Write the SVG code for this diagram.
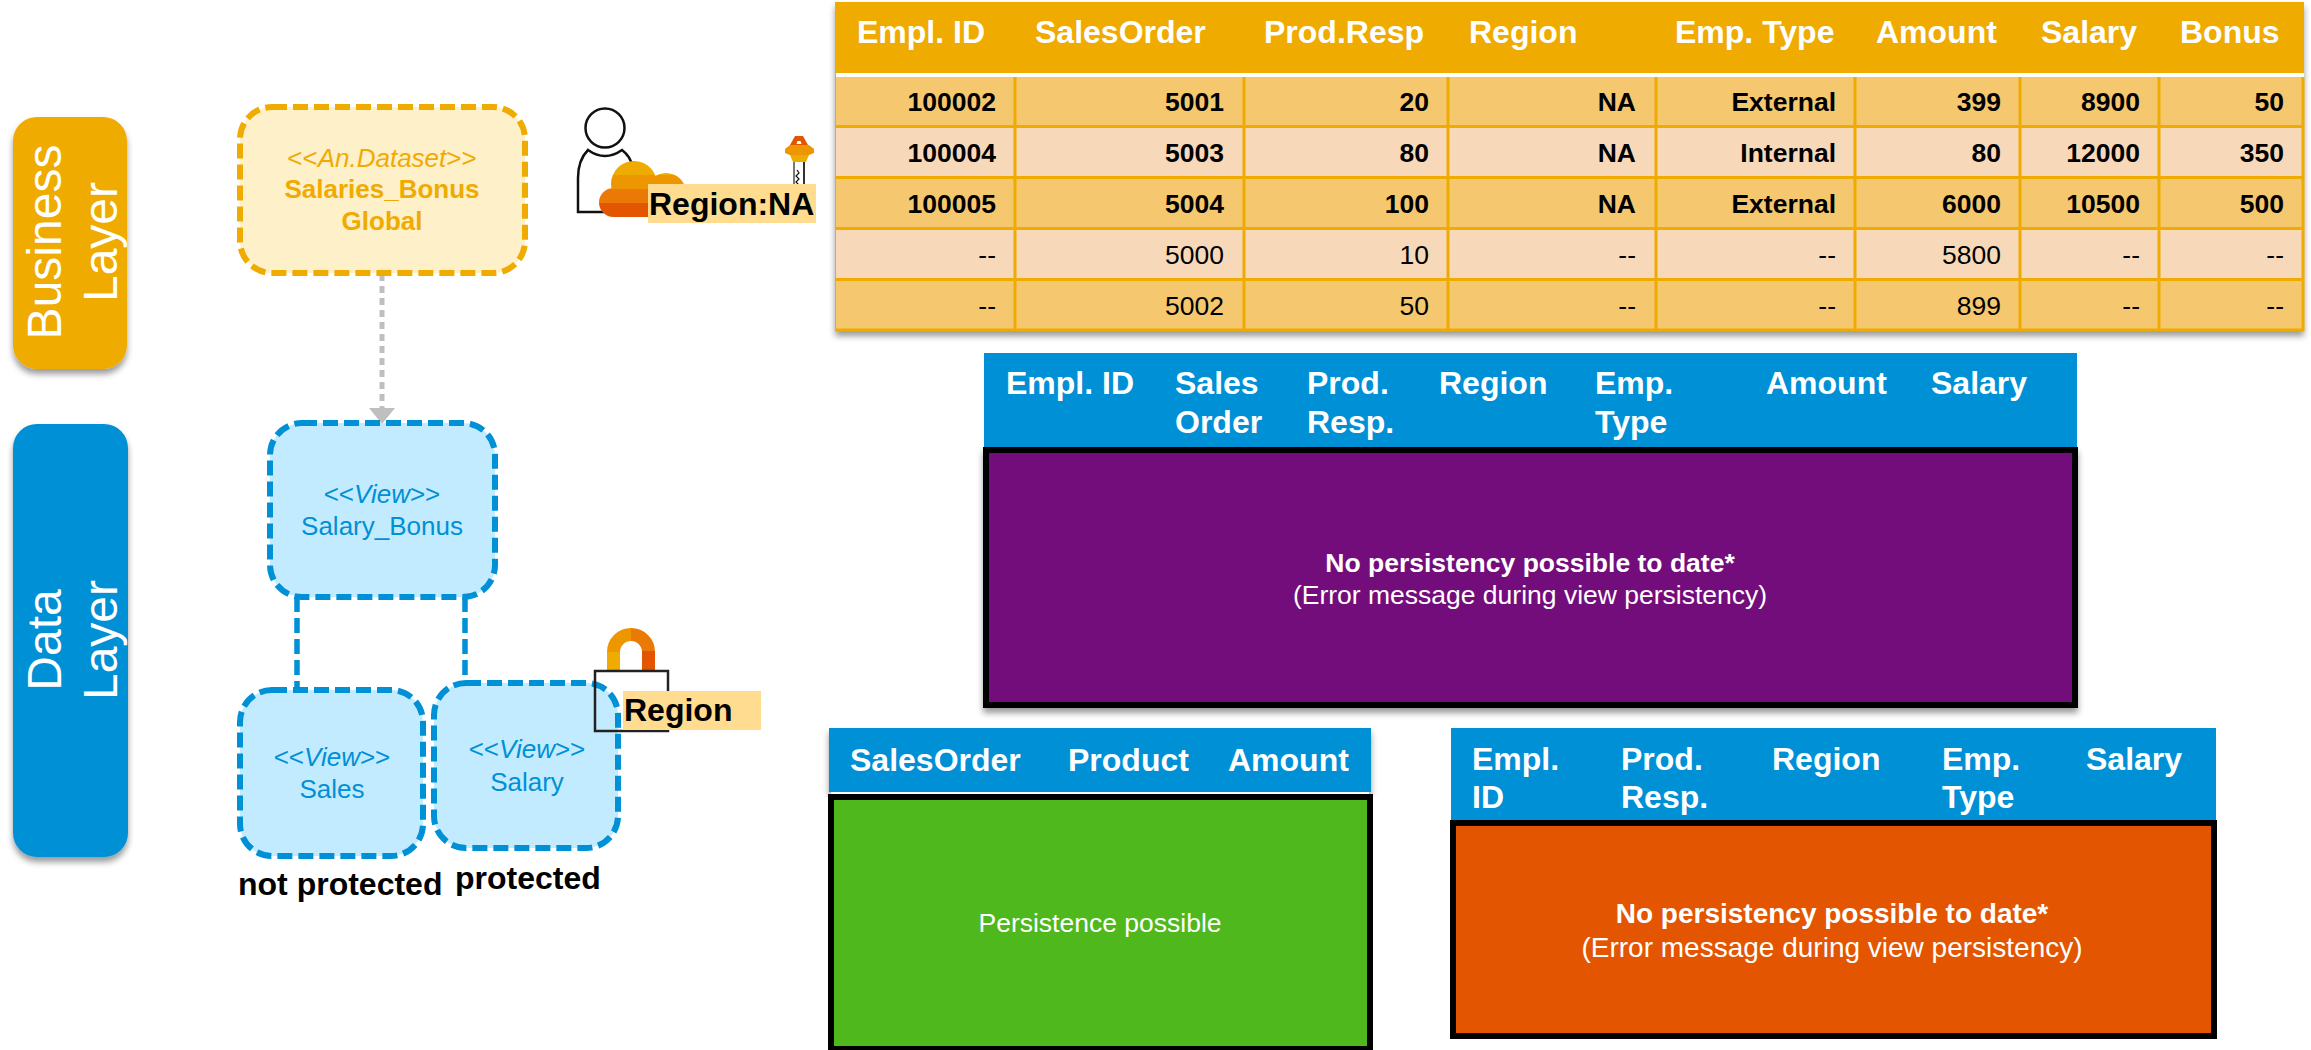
<svg xmlns="http://www.w3.org/2000/svg" width="2311" height="1050" viewBox="0 0 2311 1050">
<style>
text{font-family:"Liberation Sans",Arial,sans-serif}
.tab{font-size:48px;fill:#fff;text-anchor:middle}
.node{stroke-width:6;stroke-dasharray:15 6}
.onode{fill:#FEF0C9;stroke:#F0AB00}
.bnode{fill:#C3EBFF;stroke:#0090D6}
.nt{font-size:26px;text-anchor:middle}
.ot{fill:#F0AB00}
.bt{fill:#0090D6}
.b{font-weight:bold}
.lab{font-size:32px;font-weight:bold;fill:#000}
.hdr{font-size:32px;font-weight:bold;fill:#fff}
.c{font-size:26.5px;fill:#000;text-anchor:end}
.gl{stroke:#F0AB00;stroke-width:3;fill:none}
.msg{font-size:26.5px;fill:#fff;text-anchor:middle}
.msg2{font-size:28px;fill:#fff;text-anchor:middle}
.box{stroke:#000;stroke-width:6}
.hl{fill:#FFDC8F}
</style>
<defs>
<filter id="sh" x="-5%" y="-5%" width="110%" height="112%"><feDropShadow dx="0" dy="5" stdDeviation="3" flood-color="#000" flood-opacity="0.4"/></filter>
<linearGradient id="cloud" gradientUnits="userSpaceOnUse" x1="0" y1="161" x2="0" y2="217">
<stop offset="0" stop-color="#F0AB00"/><stop offset=".25" stop-color="#F0AB00"/><stop offset=".25" stop-color="#EE9600"/><stop offset=".5" stop-color="#EE9600"/><stop offset=".5" stop-color="#EA7A05"/><stop offset=".75" stop-color="#EA7A05"/><stop offset=".75" stop-color="#E35500"/><stop offset="1" stop-color="#E35500"/>
</linearGradient>
<marker id="arr" markerUnits="userSpaceOnUse" markerWidth="16" markerHeight="26" refX="0" refY="13" orient="auto"><path d="M0 0L16 13L0 26Z" fill="#BFBFBF"/></marker>
</defs>

<g id="tab-business">
<rect x="13" y="117" width="114" height="252" rx="24" fill="#F0AB00" filter="url(#sh)"/>
<text class="tab" transform="translate(61 242) rotate(-90)">Business</text>
<text class="tab" transform="translate(117 242) rotate(-90)">Layer</text>
</g>
<g id="tab-data">
<rect x="13" y="424" width="115" height="433" rx="24" fill="#0090D6" filter="url(#sh)"/>
<text class="tab" transform="translate(61 640) rotate(-90)">Data</text>
<text class="tab" transform="translate(117 640) rotate(-90)">Layer</text>
</g>

<g id="connectors">
<path d="M382 274V408" fill="none" stroke="#BFBFBF" stroke-width="5" stroke-dasharray="7 5" marker-end="url(#arr)"/>
<path d="M297 597V690M465 597V683" fill="none" stroke="#0090D6" stroke-width="5.500" stroke-dasharray="15 6"/>
</g>

<g id="node-dataset">
<rect class="node onode" x="240" y="107" width="285" height="166" rx="32"/>
<text class="nt ot" x="382" y="167">&lt;&lt;<tspan font-style="italic">An.Dataset</tspan>&gt;&gt;</text>
<text class="nt ot b" x="382" y="198">Salaries_Bonus</text>
<text class="nt ot b" x="382" y="230">Global</text>
</g>
<g id="node-salary-bonus">
<rect class="node bnode" x="270" y="423" width="225" height="174" rx="32"/>
<text class="nt bt" x="382" y="503">&lt;&lt;<tspan font-style="italic">View</tspan>&gt;&gt;</text>
<text class="nt bt" x="382" y="535">Salary_Bonus</text>
</g>
<g id="node-sales">
<rect class="node bnode" x="240" y="690" width="183" height="166" rx="32"/>
<text class="nt bt" x="332" y="766">&lt;&lt;<tspan font-style="italic">View</tspan>&gt;&gt;</text>
<text class="nt bt" x="332" y="798">Sales</text>
</g>
<g id="lock-shackle" fill="none" stroke-width="13">
<path d="M613.5 671V651" stroke="#F0AB00"/>
<path d="M613.5 652A17.5 17.5 0 0 1 631 634.5" stroke="#EE9600"/>
<path d="M631 634.5A17.5 17.5 0 0 1 648.500 652" stroke="#EA7A05"/>
<path d="M648.500 671V651" stroke="#E35500"/>
</g>
<g id="node-salary">
<rect class="node bnode" x="434" y="683" width="184" height="165" rx="32"/>
<text class="nt bt" x="527" y="758">&lt;&lt;<tspan font-style="italic">View</tspan>&gt;&gt;</text>
<text class="nt bt" x="527" y="791">Salary</text>
</g>
<g id="lock-region">
<rect x="595" y="671" width="73" height="60" fill="none" stroke="#222" stroke-width="2.500"/>
<rect class="hl" x="623" y="691" width="138" height="39"/>
<text class="lab" x="624" y="721">Region</text>
</g>
<text class="lab" x="238" y="895">not protected</text>
<text class="lab" x="455" y="889">protected</text>

<g id="user-region">
<circle cx="605" cy="128" r="19.500" fill="none" stroke="#111" stroke-width="2.500"/>
<path d="M604 212H578V178Q578 160 588 150Q605 162 622 150Q631 157 632 166" fill="none" stroke="#111" stroke-width="2.500"/>
<path d="M611 184A23 23 0 0 1 657 184A23 23 0 0 1 611 184ZM646 193A20 20 0 0 1 686 193A20 20 0 0 1 646 193ZM613.500 188H680V217H613.500A14.500 14.500 0 0 1 613.500 188Z" fill="url(#cloud)"/>
<path d="M794 162V193" stroke="#777" stroke-width="2"/>
<path d="M804 162V193" stroke="#333" stroke-width="2"/>
<path d="M797 170l2 3l-3 3l3 3l-3 3l3 3l-3 3l2 4" fill="none" stroke="#111" stroke-width="1.200"/>
<path d="M795 136H803L808 145H790Z" fill="#E35500"/>
<path d="M797.500 141H800.500L801.500 144H796.500Z" fill="#fff"/>
<path d="M790 145H809L814 149V153L809 155H790L785 153V149Z" fill="#EE9600"/>
<path d="M790 155H809L806 162H793Z" fill="#F0AB00"/>
<rect class="hl" x="648" y="184" width="168" height="39"/>
<text class="lab" x="649" y="215">Region:NA</text>
</g>

<g id="table-full">
<rect x="835" y="2" width="1469" height="329" fill="#F0AB00" filter="url(#sh)"/>
<rect x="836" y="77" width="1468" height="50" fill="#F5C76E"/>
<rect x="836" y="127" width="1468" height="51" fill="#F7D9BA"/>
<rect x="836" y="178" width="1468" height="51" fill="#F5C76E"/>
<rect x="836" y="229" width="1468" height="51" fill="#F7D9BA"/>
<rect x="836" y="280" width="1468" height="51" fill="#F5C76E"/>
<rect x="836" y="73" width="1468" height="4" fill="#fff"/>
<path class="gl" d="M836 126.500H2304M836 177.500H2304M836 228.500H2304M836 279.500H2304M836 330H2304M1015 77V331M1244 77V331M1448 77V331M1656 77V331M1855 77V331M2020 77V331M2159 77V331M2303 77V331"/>
<text class="hdr" x="857" y="43">Empl. ID</text><text class="hdr" x="1035" y="43">SalesOrder</text><text class="hdr" x="1264" y="43">Prod.Resp</text><text class="hdr" x="1469" y="43">Region</text><text class="hdr" x="1675" y="43">Emp. Type</text><text class="hdr" x="1876" y="43">Amount</text><text class="hdr" x="2041" y="43">Salary</text><text class="hdr" x="2180" y="43">Bonus</text>
<g class="b">
<text class="c" x="996" y="111">100002</text><text class="c" x="1224" y="111">5001</text><text class="c" x="1429" y="111">20</text><text class="c" x="1636" y="111">NA</text><text class="c" x="1836" y="111">External</text><text class="c" x="2001" y="111">399</text><text class="c" x="2140" y="111">8900</text><text class="c" x="2284" y="111">50</text>
<text class="c" x="996" y="162">100004</text><text class="c" x="1224" y="162">5003</text><text class="c" x="1429" y="162">80</text><text class="c" x="1636" y="162">NA</text><text class="c" x="1836" y="162">Internal</text><text class="c" x="2001" y="162">80</text><text class="c" x="2140" y="162">12000</text><text class="c" x="2284" y="162">350</text>
<text class="c" x="996" y="213">100005</text><text class="c" x="1224" y="213">5004</text><text class="c" x="1429" y="213">100</text><text class="c" x="1636" y="213">NA</text><text class="c" x="1836" y="213">External</text><text class="c" x="2001" y="213">6000</text><text class="c" x="2140" y="213">10500</text><text class="c" x="2284" y="213">500</text>
</g>
<text class="c" x="996" y="264">--</text><text class="c" x="1224" y="264">5000</text><text class="c" x="1429" y="264">10</text><text class="c" x="1636" y="264">--</text><text class="c" x="1836" y="264">--</text><text class="c" x="2001" y="264">5800</text><text class="c" x="2140" y="264">--</text><text class="c" x="2284" y="264">--</text>
<text class="c" x="996" y="315">--</text><text class="c" x="1224" y="315">5002</text><text class="c" x="1429" y="315">50</text><text class="c" x="1636" y="315">--</text><text class="c" x="1836" y="315">--</text><text class="c" x="2001" y="315">899</text><text class="c" x="2140" y="315">--</text><text class="c" x="2284" y="315">--</text>
</g>

<g id="table-view">
<rect x="984" y="353" width="1093" height="94" fill="#0090D6"/>
<rect class="box" x="986" y="450" width="1089" height="255" fill="#730B7B" filter="url(#sh)"/>
<text class="hdr" x="1006" y="394">Empl. ID</text>
<text class="hdr" x="1175" y="394">Sales</text><text class="hdr" x="1175" y="433">Order</text>
<text class="hdr" x="1307" y="394">Prod.</text><text class="hdr" x="1307" y="433">Resp.</text>
<text class="hdr" x="1439" y="394">Region</text>
<text class="hdr" x="1595" y="394">Emp.</text><text class="hdr" x="1595" y="433">Type</text>
<text class="hdr" x="1766" y="394">Amount</text>
<text class="hdr" x="1931" y="394">Salary</text>
<text class="msg b" x="1530" y="572">No persistency possible to date*</text>
<text class="msg" x="1530" y="604">(Error message during view persistency)</text>
</g>

<g id="table-sales">
<rect x="829" y="728" width="542" height="64" fill="#0090D6" filter="url(#sh)"/>
<rect x="831" y="792" width="538" height="3" fill="#fff"/>
<rect class="box" x="831" y="797" width="539" height="252" fill="#4FB81C"/>
<text class="hdr" x="850" y="771">SalesOrder</text><text class="hdr" x="1068" y="771">Product</text><text class="hdr" x="1228" y="771">Amount</text>
<text class="msg" x="1100" y="932">Persistence possible</text>
</g>

<g id="table-salary">
<rect x="1451" y="728" width="765" height="92" fill="#0090D6"/>
<rect class="box" x="1453" y="823" width="761" height="213" fill="#E35500"/>
<text class="hdr" x="1472" y="770">Empl.</text><text class="hdr" x="1472" y="808">ID</text>
<text class="hdr" x="1621" y="770">Prod.</text><text class="hdr" x="1621" y="808">Resp.</text>
<text class="hdr" x="1772" y="770">Region</text>
<text class="hdr" x="1942" y="770">Emp.</text><text class="hdr" x="1942" y="808">Type</text>
<text class="hdr" x="2086" y="770">Salary</text>
<text class="msg2 b" x="1832" y="923">No persistency possible to date*</text>
<text class="msg2" x="1832" y="957">(Error message during view persistency)</text>
</g>
</svg>
